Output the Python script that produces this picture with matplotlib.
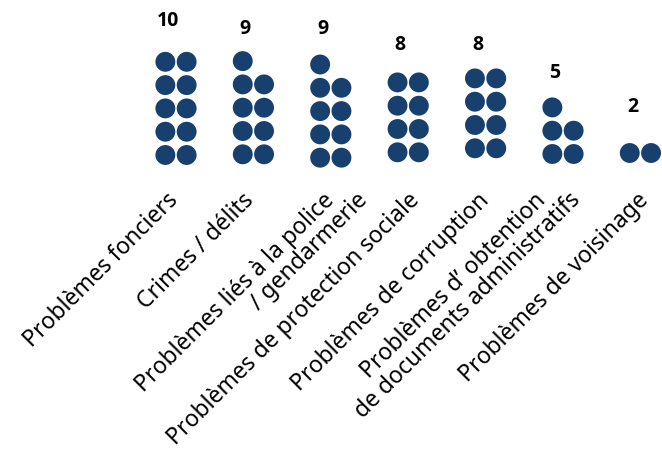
import numpy as np
import matplotlib as mpl
import matplotlib.pyplot as plt

plt.rcParams['font.family'] = ['Noto Sans', 'DejaVu Sans']

categories = ['Problèmes fonciers',
              'Crimes / délits',
              'Problèmes liés à la police\n/ gendarmerie',
              'Problèmes de protection sociale',
              'Problèmes de corruption',
              'Problèmes d\u2019 obtention\nde documents administratifs',
              'Problèmes de voisinage']
counts = [10, 9, 9, 8, 8, 5, 2]

# layout (pixels)
W, H = 662, 456
PX_X, PX_Y = 77.4, 23.3      # px per category, px per dot row
X0, ROW0 = 176, 155          # first column centre, bottom row centre (from top)
col_shift = [1, 0.3, 3.7, -1.7, -5.7, 0, -1]    # small vertical drift of each column
num_gap = [42, 33, 37, 38, 34, 35, 47]          # value label above top dot
lab_dx = [3, 1, 4, 12, 4, -16, 9]               # label end vs column centre
lab_y = 201
line2_dx = 34
color = '#18406f'

fig = plt.figure(figsize=(W/100, H/100), dpi=100)
ax = fig.add_axes([0, 0, 1, 1])
ax.set_xlim(-X0/PX_X, (W-X0)/PX_X)
ax.set_ylim(-(H-ROW0)/PX_Y, ROW0/PX_Y)
ax.axis('off')

def ypx(y):
    return (ROW0 - y)/PX_Y

for i, n in enumerate(counts):
    k = np.arange(n)
    xs = i + (k % 2 - 0.5)*21.3/PX_X
    ys = k//2 - col_shift[i]/PX_Y
    ax.scatter(xs, ys, s=205, color=color, edgecolors='none')

    top = (n - 1)//2 - col_shift[i]/PX_Y
    ax.text(i - 8/PX_X, top + num_gap[i]/PX_Y, str(n), fontsize=14,
            fontweight='bold', family=['Open Sans', 'Lato', 'DejaVu Sans'],
            ha='center', va='center', color='black')

    for j, line in enumerate(categories[i].split('\n')):
        ax.text(i + (lab_dx[i] + j*line2_dx)/PX_X, ypx(lab_y), line,
                fontsize=16.5, rotation=45, rotation_mode='anchor',
                ha='right', va='baseline', color='black')

fig.savefig('out.png', dpi=100)
